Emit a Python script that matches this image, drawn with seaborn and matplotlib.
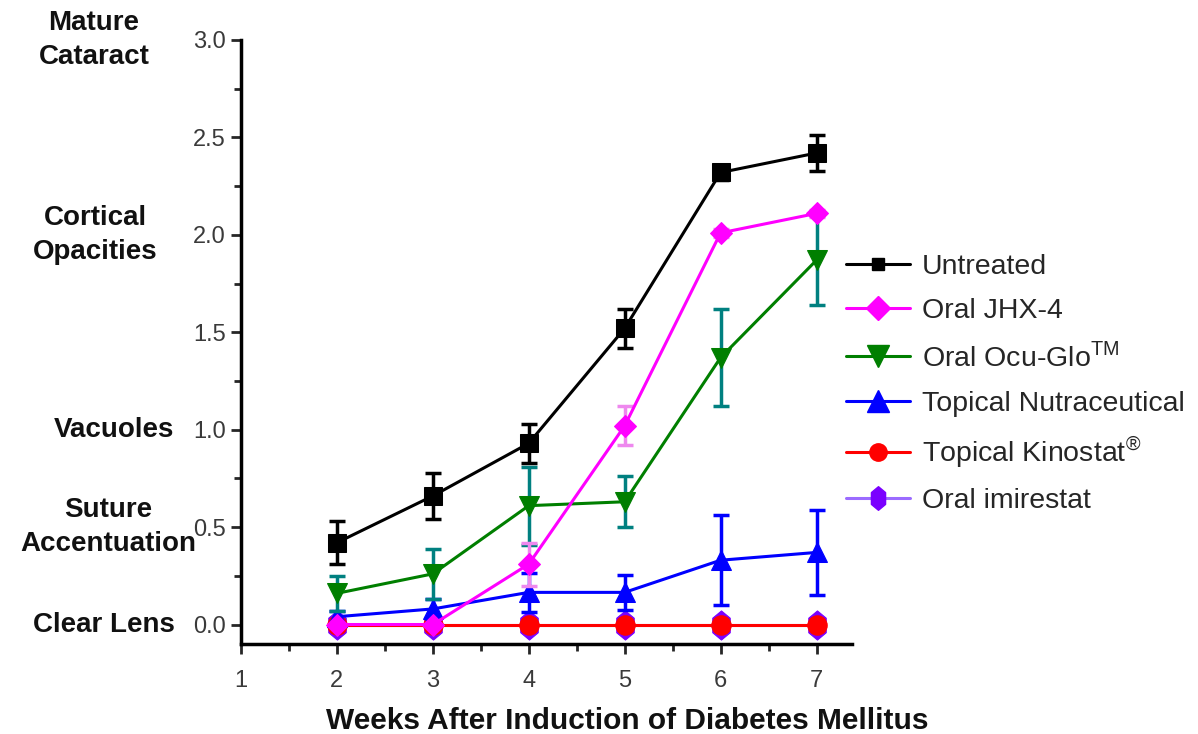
import numpy as np
import pandas as pd
import matplotlib
matplotlib.use("Agg")
import matplotlib.pyplot as plt
from matplotlib.ticker import MultipleLocator
from matplotlib.lines import Line2D
from matplotlib.path import Path
import seaborn as sns

weeks = [2, 3, 4, 5, 6, 7]
untreated = [0.42, 0.66, 0.93, 1.52, 2.32, 2.42]
untreated_err = [0.11, 0.12, 0.10, 0.10, 0.04, 0.09]
jhx4 = [0.0, 0.0, 0.31, 1.02, 2.01, 2.11]
jhx4_err = [0.0, 0.0, 0.11, 0.10, 0.02, 0.02]
ocuglo = [0.16, 0.26, 0.61, 0.63, 1.37, 1.87]
ocuglo_err = [0.09, 0.13, 0.20, 0.13, 0.25, 0.23]
nutra = [0.04, 0.08, 0.165, 0.165, 0.33, 0.37]
nutra_err = [0.03, 0.05, 0.10, 0.09, 0.23, 0.22]
kinostat = [0.0, 0.0, 0.0, 0.0, 0.0, 0.0]
imirestat = [0.0, 0.0, 0.0, 0.0, 0.0, 0.0]

stage_labels = ["Clear Lens", "Suture\nAccentuation", "Vacuoles", "Cortical\nOpacities", "Mature\nCataract"]
stage_values = [0.0, 0.5, 1.0, 2.0, 3.0]
stage_xpix = [104, 108, 114, 95, 94]

sns.set_style("ticks")
plt.rcParams['font.family'] = ['Liberation Sans', 'DejaVu Sans']
plt.rcParams['mathtext.fontset'] = 'custom'
plt.rcParams['mathtext.rm'] = 'Liberation Sans'

# tall hexagon marker
hexv = [(0, 1.5), (0.9, 0.75), (0.9, -0.75), (0, -1.5), (-0.9, -0.75), (-0.9, 0.75), (0, 1.5)]
tall_hex = Path(hexv, [Path.MOVETO] + [Path.LINETO] * 5 + [Path.CLOSEPOLY])

fig = plt.figure(figsize=(11.98, 7.34), dpi=100)
ax = fig.add_axes([241/1198, 1-644/734, (852-241)/1198, (644-40)/734])

# label, values, errors, line color, err color, marker, size, marker color, legend size
series = [
    ("Oral imirestat", imirestat, None, "#9b6bff", None, tall_hex, 21, "#7a00ff", 17),
    ("Topical Kinostat$^{\\mathrm{®}}$", kinostat, None, "#ff0000", None, "o", 14, "#ff0000", 12.5),
    ("Topical Nutraceutical", nutra, nutra_err, "#0000ff", "#0000ff", "^", 15, "#0000ff", 16),
    ("Oral Ocu-Glo$^{\\mathrm{TM}}$", ocuglo, ocuglo_err, "#007f00", "#008080", "v", 15, "#007f00", 16),
    ("Oral JHX-4", jhx4, jhx4_err, "#ff00ff", "#ee88ee", "D", 11, "#ff00ff", 12.5),
    ("Untreated", untreated, untreated_err, "#000000", "#000000", "s", 12.5, "#000000", 9),
]

handles = {}
for i, (lab, vals, errs, lc, ec, mk, ms, mc, lms) in enumerate(series):
    df = pd.DataFrame({"week": weeks, "score": vals})
    if errs is not None:
        ax.errorbar(weeks, vals, yerr=errs, fmt="none", ecolor=ec, elinewidth=2.5,
                    capsize=6, capthick=2.5, zorder=2 + 2 * i)
    sns.lineplot(data=df, x="week", y="score", ax=ax, color=lc, linewidth=2.2,
                 marker=mk, markersize=ms, markerfacecolor=mc, markeredgecolor=mc,
                 zorder=3 + 2 * i, legend=False)
    handles[lab] = Line2D([0], [0], color=lc, linewidth=2.2, marker=mk, markersize=lms,
                          markerfacecolor=mc, markeredgecolor=mc)

order = ["Untreated", "Oral JHX-4", "Oral Ocu-Glo$^{\\mathrm{TM}}$", "Topical Nutraceutical",
         "Topical Kinostat$^{\\mathrm{®}}$", "Oral imirestat"]
fig.legend([handles[k] for k in order], order, loc="upper left",
           bbox_to_anchor=(846/1198, 1-254/734), frameon=False, fontsize=20.5,
           handlelength=2.25, handletextpad=0.42, labelspacing=0.64, borderpad=0,
           borderaxespad=0)

ax.set_xlim(1, 7.37)
ax.set_ylim(-0.1, 3.0)
ax.set_xticks([1, 2, 3, 4, 5, 6, 7])
ax.xaxis.set_minor_locator(MultipleLocator(0.5))
ax.set_yticks([0, 0.5, 1.0, 1.5, 2.0, 2.5, 3.0])
ax.set_yticklabels(["0.0", "0.5", "1.0", "1.5", "2.0", "2.5", "3.0"])
ax.yaxis.set_minor_locator(MultipleLocator(0.25))
ax.tick_params(axis="both", which="major", length=7, width=2, labelsize=17,
               labelcolor="#3a3a3a", direction="out")
ax.tick_params(axis="x", which="major", pad=12)
ax.tick_params(axis="y", which="major", pad=4)
ax.tick_params(axis="both", which="minor", length=5, width=2, direction="out")
for s in ["top", "right"]:
    ax.spines[s].set_visible(False)
for s in ["left", "bottom"]:
    ax.spines[s].set_linewidth(2.5)
    ax.spines[s].set_color("black")
ax.spines["left"].set_bounds(-0.1, 3.0)
ax.set_xlabel("")
ax.set_ylabel("")

for lab, v, xp in zip(stage_labels, stage_values, stage_xpix):
    ax.annotate(lab, xy=(xp/1198, v), xycoords=("figure fraction", "data"),
                ha="center", va="center", fontsize=20, fontweight="bold",
                color="#111111", linespacing=1.4, annotation_clip=False)

fig.text(627/1198, 1-721/734, "Weeks After Induction of Diabetes Mellitus",
         ha="center", va="center", fontsize=21.5, fontweight="bold", color="#111111")

fig.savefig("out.png", dpi=100)
